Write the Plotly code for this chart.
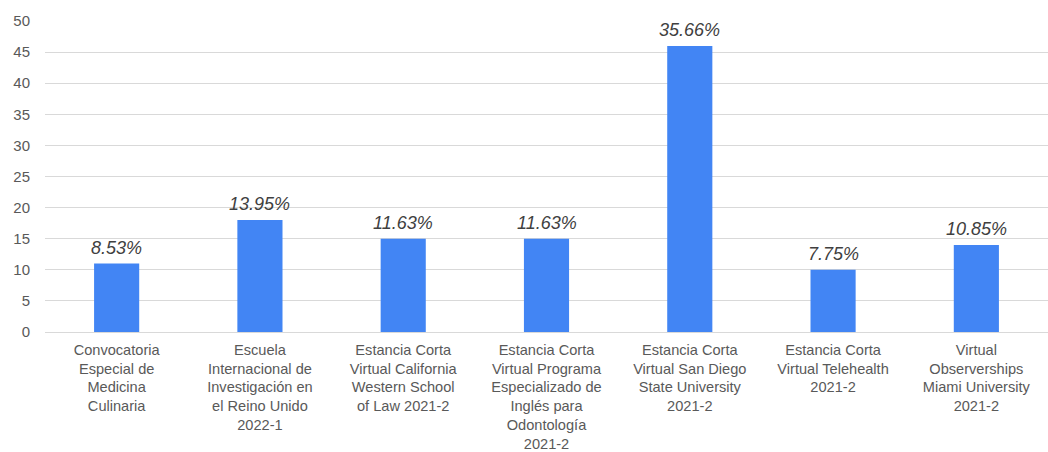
import plotly.graph_objects as go

categories = [
    "Convocatoria<br>Especial de<br>Medicina<br>Culinaria",
    "Escuela<br>Internacional de<br>Investigación en<br>el Reino Unido<br>2022-1",
    "Estancia Corta<br>Virtual California<br>Western School<br>of Law 2021-2",
    "Estancia Corta<br>Virtual Programa<br>Especializado de<br>Inglés para<br>Odontología<br>2021-2",
    "Estancia Corta<br>Virtual San Diego<br>State University<br>2021-2",
    "Estancia Corta<br>Virtual Telehealth<br>2021-2",
    "Virtual<br>Observerships<br>Miami University<br>2021-2",
]
counts = [11, 18, 15, 15, 46, 10, 14]

total = sum(counts)
percent_labels = [f"{c / total * 100:.2f}%" for c in counts]

fig = go.Figure(
    go.Bar(
        x=list(range(len(categories))),
        y=counts,
        marker=dict(color="#4285F4", line=dict(width=0)),
        width=0.315,
        hoverinfo="skip",
    )
)

for i, (c, lab) in enumerate(zip(counts, percent_labels)):
    fig.add_annotation(
        x=i, y=c, text=f"<i>{lab}</i>", showarrow=False,
        yanchor="bottom", yshift=4,
        font=dict(family="Liberation Sans, Arial", size=18, color="#404040"),
    )

fig.update_layout(
    width=1048, height=452,
    margin=dict(l=45, r=0, t=21, b=120, autoexpand=False),
    paper_bgcolor="white", plot_bgcolor="white",
    showlegend=False,
    bargap=0.685,
    font=dict(family="Liberation Sans, Arial", size=14.6, color="#595959"),
)
fig.update_xaxes(
    tickmode="array",
    tickvals=list(range(len(categories))),
    ticktext=categories,
    range=[-0.5, len(categories) - 0.5],
    showline=True, linecolor="#d9d9d9", linewidth=1,
    showgrid=False, ticks="",
    tickangle=0,
    automargin=False,
    ticklabelstandoff=4,
    tickfont=dict(size=14.6, color="#595959"),
)
fig.update_yaxes(
    range=[0, 50], dtick=5,
    showgrid=True, gridcolor="#d9d9d9", gridwidth=1,
    zeroline=False, showline=False, ticks="",
    automargin=False,
    ticklabelstandoff=14,
    tickfont=dict(size=15, color="#595959"),
)

fig.write_html("out.html")
